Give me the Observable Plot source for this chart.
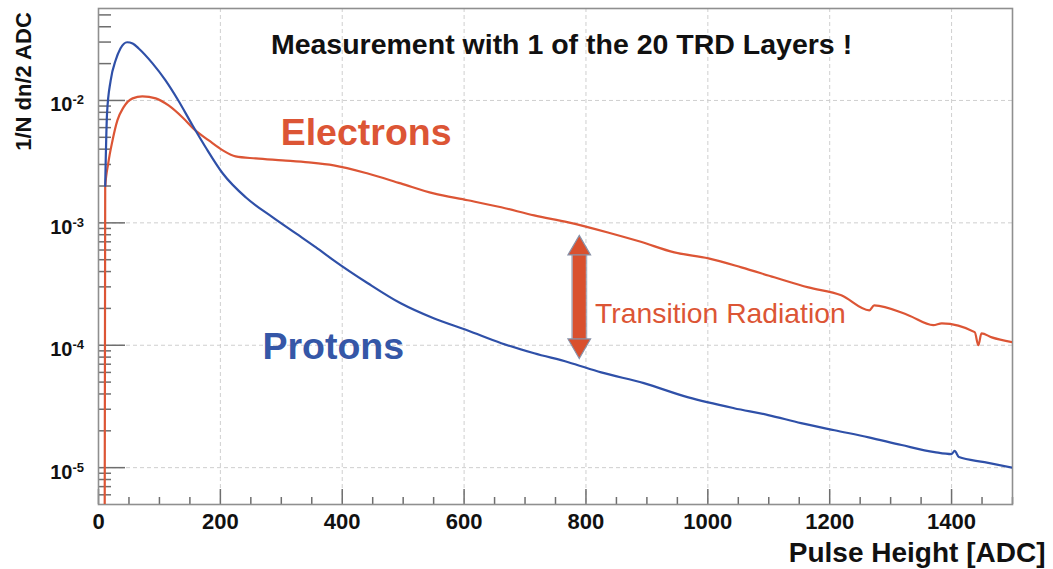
<!DOCTYPE html>
<html>
<head>
<meta charset="utf-8">
<script src="https://cdn.jsdelivr.net/npm/d3@7"></script>
<script src="https://cdn.jsdelivr.net/npm/@observablehq/plot@0.6"></script>
<style>
  html, body { margin: 0; padding: 0; background: #fff; }
  #chart svg { display: block; }
</style>
</head>
<body>
<div id="chart"></div>
<script>
// ---- Data ----
const protonADC = [11, 14, 20, 28, 36, 47, 56, 66, 89, 110, 131, 154, 176, 204, 242, 286, 324, 357, 386, 442, 496, 550, 606, 661, 715, 771, 825, 895, 968, 1043, 1099, 1153, 1208, 1264, 1318, 1372, 1400, 1405, 1412, 1454, 1500];
const protonValue = [2.0e-3, 7.8e-3, 1.46e-2, 2.12e-2, 2.66e-2, 2.99e-2, 2.92e-2, 2.66e-2, 2.0e-2, 1.46e-2, 1.0e-2, 6.3e-3, 4.13e-3, 2.53e-3, 1.61e-3, 1.11e-3, 8.2e-4, 6.3e-4, 4.94e-4, 3.21e-4, 2.2e-4, 1.66e-4, 1.32e-4, 1.04e-4, 8.6e-5, 7.27e-5, 6.0e-5, 4.9e-5, 3.75e-5, 3.06e-5, 2.69e-5, 2.31e-5, 2.02e-5, 1.77e-5, 1.53e-5, 1.34e-5, 1.29e-5, 1.37e-5, 1.22e-5, 1.11e-5, 1.0e-5];

const electronADC = [10, 11, 16, 23, 31, 41, 56, 72, 94, 115, 138, 159, 181, 204, 225, 258, 302, 345, 386, 442, 496, 550, 606, 661, 715, 771, 836, 890, 945, 1001, 1055, 1109, 1165, 1219, 1265, 1273, 1329, 1370, 1384, 1438, 1444, 1449, 1466, 1500];
const electronValue = [1e-6, 1.95e-3, 3.06e-3, 4.71e-3, 6.87e-3, 8.77e-3, 1.04e-2, 1.08e-2, 1.04e-2, 9.1e-3, 7.26e-3, 5.69e-3, 4.71e-3, 3.91e-3, 3.49e-3, 3.36e-3, 3.24e-3, 3.12e-3, 2.95e-3, 2.53e-3, 2.10e-3, 1.74e-3, 1.53e-3, 1.34e-3, 1.15e-3, 1.01e-3, 8.35e-4, 7.0e-4, 5.74e-4, 5.13e-4, 4.33e-4, 3.59e-4, 2.97e-4, 2.56e-4, 1.93e-4, 2.12e-4, 1.76e-4, 1.46e-4, 1.51e-4, 1.28e-4, 1.0e-4, 1.25e-4, 1.16e-4, 1.06e-4];

const xMajorTicks = [0, 200, 400, 600, 800, 1000, 1200, 1400];
const xTickLabels = ["0", "200", "400", "600", "800", "1000", "1200", "1400"];
const xGridTicks = [200, 400, 600, 800, 1000, 1200, 1400];
const xMinorTicks = [50, 100, 150, 250, 300, 350, 450, 500, 550, 650, 700, 750, 850, 900, 950, 1050, 1100, 1150, 1250, 1300, 1350, 1450, 1500];

const yMajorTicks = [1e-2, 1e-3, 1e-4, 1e-5];
const yTickBase = ["10", "10", "10", "10"];
const yTickExponent = ["-2", "-3", "-4", "-5"];
const yMinorTicks = [6e-6, 7e-6, 8e-6, 9e-6,
  2e-5, 3e-5, 4e-5, 5e-5, 6e-5, 7e-5, 8e-5, 9e-5,
  2e-4, 3e-4, 4e-4, 5e-4, 6e-4, 7e-4, 8e-4, 9e-4,
  2e-3, 3e-3, 4e-3, 5e-3, 6e-3, 7e-3, 8e-3, 9e-3,
  2e-2, 3e-2, 4e-2, 5e-2];

// annotation anchors (data coordinates)
const electronLabel = ["Electrons"];
const electronLabelAt = [299, 4.3e-3];
const protonLabel = ["Protons"];
const protonLabelAt = [269, 7.66e-5];
const trLabel = ["Transition Radiation"];
const trLabelAt = [815, 1.53e-4];
const arrowADC = [789];
const arrowShaft = [5.73e-4, 1.07e-4];
const arrowHeads = [6.18e-4, 9.96e-5];

const titleText = "Measurement with 1 of the 20 TRD Layers !";
const yLabelText = "1/N dn/2 ADC";
const xLabelText = "Pulse Height [ADC]";

// ---- Build tables ----
const protons = protonADC.map((x, i) => ({x, y: protonValue[i]}));
const electrons = electronADC.map((x, i) => ({x, y: electronValue[i]}));
const yTicks = yMajorTicks.map((v, i) => ({v, base: yTickBase[i], exp: yTickExponent[i]}));
const xTicks = xMajorTicks.map((v, i) => ({v, label: xTickLabels[i]}));

const RED = "#dc5535";
const BLUE = "#2f50a8";
const FONT = "'Liberation Sans', Arial, Helvetica, sans-serif";
const W = 1053, H = 569;
const ML = 98, MR = 41, MT = 8, MB = 65;
const innerW = W - ML - MR, innerH = H - MT - MB;

const chart = Plot.plot({
  width: W,
  height: H,
  marginLeft: ML, marginRight: MR, marginTop: MT, marginBottom: MB,
  style: {fontFamily: FONT, background: "#fff", overflow: "visible"},
  x: {domain: [0, 1500], axis: null},
  y: {type: "log", domain: [5e-6, 0.0564], axis: null},
  marks: [
    // grid
    Plot.ruleX(xGridTicks, {x: d => d, stroke: "#cfcfcf", strokeWidth: 1, strokeDasharray: "4,3"}),
    Plot.ruleY(yMajorTicks, {y: d => d, stroke: "#cfcfcf", strokeWidth: 1, strokeDasharray: "4,3"}),
    // ticks (inside frame)
    Plot.tickX(xMajorTicks, {x: d => d, insetTop: innerH - 15, stroke: "#6e6e6e", strokeWidth: 1.5}),
    Plot.tickX(xMinorTicks, {x: d => d, insetTop: innerH - 7, stroke: "#6e6e6e", strokeWidth: 1.5}),
    Plot.tickY(yMajorTicks, {y: d => d, insetRight: innerW - 27, stroke: "#6e6e6e", strokeWidth: 1.5}),
    Plot.tickY(yMinorTicks, {y: d => d, insetRight: innerW - 13, stroke: "#6e6e6e", strokeWidth: 1.5}),
    // frame
    Plot.frame({stroke: "#8f8f8f", strokeWidth: 1.6}),
    // curves
    Plot.line(electrons, {x: "x", y: "y", stroke: RED, strokeWidth: 2.2, curve: "monotone-x", clip: true}),
    Plot.line(protons, {x: "x", y: "y", stroke: BLUE, strokeWidth: 2.2, curve: "monotone-x", clip: true}),
    // double arrow
    Plot.ruleX(arrowADC, {x: d => d, y1: arrowShaft[0], y2: arrowShaft[1], stroke: "#8791a8", strokeWidth: 16, strokeOpacity: 0.7}),
    Plot.ruleX(arrowADC, {x: d => d, y1: arrowShaft[0], y2: arrowShaft[1], stroke: "#d9502e", strokeWidth: 13}),
    Plot.dot(arrowADC, {x: d => d, y: arrowHeads[0], symbol: "triangle", r: 8.4, fill: "#d9502e", stroke: "#8791a8", strokeWidth: 1.2}),
    Plot.dot(arrowADC, {x: d => d, y: arrowHeads[1], symbol: "triangle", rotate: 180, r: 8.4, fill: "#d9502e", stroke: "#8791a8", strokeWidth: 1.2}),
    // x tick labels
    Plot.text(xTicks, {x: "v", text: "label", frameAnchor: "bottom", lineAnchor: "bottom", dy: 24, fontSize: 22, fontWeight: "bold", fill: "#111"}),
    // y tick labels 10^n
    Plot.text(yTicks, {y: "v", text: "base", frameAnchor: "left", textAnchor: "end", lineAnchor: "bottom", dx: -26, dy: 11, fontSize: 20, fontWeight: "bold", fill: "#111"}),
    Plot.text(yTicks, {y: "v", text: "exp", frameAnchor: "left", textAnchor: "start", lineAnchor: "bottom", dx: -26, dy: 4, fontSize: 13, fontWeight: "bold", fill: "#111"}),
    // title
    Plot.text([titleText], {frameAnchor: "top", lineAnchor: "bottom", dx: 6, dy: 45, fontSize: 28.5, fontWeight: "bold", fill: "#111"}),
    // axis titles
    Plot.text([yLabelText], {frameAnchor: "top-left", rotate: -90, textAnchor: "middle", lineAnchor: "middle", dx: -75, dy: 73, fontSize: 22, fontWeight: "bold", fill: "#111"}),
    Plot.text([xLabelText], {frameAnchor: "bottom-right", textAnchor: "end", lineAnchor: "bottom", dx: 33, dy: 57, fontSize: 28, fontWeight: "bold", fill: "#111"}),
    // annotations
    Plot.text(electronLabel, {x: () => electronLabelAt[0], y: () => electronLabelAt[1], text: d => d, textAnchor: "start", lineAnchor: "bottom", fontSize: 37.5, fontWeight: "bold", fill: RED}),
    Plot.text(protonLabel, {x: () => protonLabelAt[0], y: () => protonLabelAt[1], text: d => d, textAnchor: "start", lineAnchor: "bottom", fontSize: 37.5, fontWeight: "bold", fill: "#3557a7"}),
    Plot.text(trLabel, {x: () => trLabelAt[0], y: () => trLabelAt[1], text: d => d, textAnchor: "start", lineAnchor: "bottom", fontSize: 28.3, fill: RED})
  ]
});

document.getElementById("chart").append(chart);
</script>
</body>
</html>
